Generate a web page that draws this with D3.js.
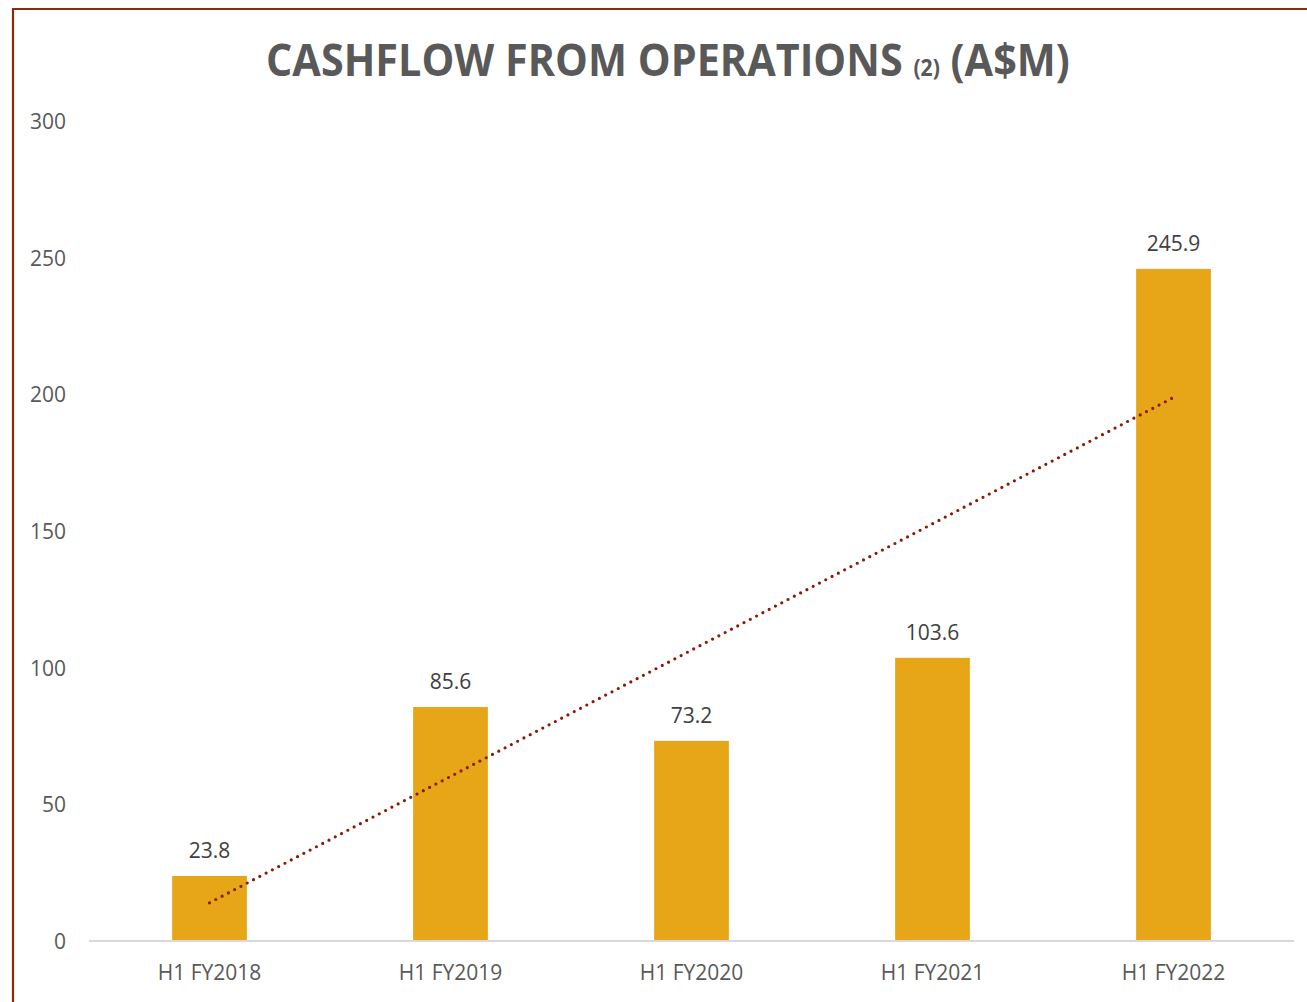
<!DOCTYPE html>
<html><head><meta charset="utf-8">
<script src="https://cdn.jsdelivr.net/npm/d3@7"></script>
<style>html,body{margin:0;padding:0;background:#fff;}svg{display:block;}</style>
</head><body>
<svg id="chart" width="1307" height="1002"></svg>
<script>
const categories = ["H1 FY2018","H1 FY2019","H1 FY2020","H1 FY2021","H1 FY2022"];
const values = [23.8, 85.6, 73.2, 103.6, 245.9];
const valueLabels = ["23.8","85.6","73.2","103.6","245.9"];
const yTicks = [0,50,100,150,200,250,300];

(function(){
const svg = d3.select("#chart");
const pLeft = 89, pRight = 1294, pTop = 121, pBottom = 941;
const font = "'Open Sans', 'Noto Sans', sans-serif";

// border (top + left)
svg.append("path").attr("d", `M13,1002 V9 H1307`).attr("fill","none")
  .attr("stroke","#8b2a0e").attr("stroke-width",2.2);

const x = d3.scaleBand().domain(categories).range([pLeft,pRight]).paddingInner(0.69).paddingOuter(0.345);
const y = d3.scaleLinear().domain([0,300]).range([pBottom,pTop]);

// y tick labels
const yAxis = d3.axisLeft(y).tickValues(yTicks).tickSize(0).tickPadding(0);
const gy = svg.append("g").attr("transform","translate(66,0)").call(yAxis);
gy.select(".domain").remove();
gy.selectAll("text").attr("font-family",font).attr("font-size",21).attr("fill","#595959").attr("dy","0.36em");

// bars
svg.append("g").selectAll("rect").data(values).join("rect")
  .attr("x",(d,i)=>x(categories[i])).attr("width",x.bandwidth())
  .attr("y",d=>y(d)).attr("height",d=>pBottom-y(d)).attr("fill","#e6a617");

// x axis
const xAxis = d3.axisBottom(x).tickSize(0).tickPadding(0);
const gx = svg.append("g").attr("transform",`translate(0,${pBottom})`).call(xAxis);
gx.select(".domain").attr("stroke","#d9d9d9").attr("stroke-width",2).attr("d",`M${pLeft},0H${pRight}`);
gx.selectAll("text").attr("font-family",font).attr("font-size",21).attr("fill","#595959").attr("dy","38.5");

// value labels
svg.append("g").selectAll("text").data(values).join("text")
  .attr("x",(d,i)=>x(categories[i])+x.bandwidth()/2).attr("y",d=>y(d)-18)
  .attr("text-anchor","middle").attr("font-family",font).attr("font-size",21).attr("fill","#404040")
  .text((d,i)=>valueLabels[i]);

// linear trendline (least squares over category index, as in the source chart)
const n = values.length;
const xs = values.map((d,i)=>i+1);
const mx = d3.mean(xs), my = d3.mean(values);
const slope = d3.sum(xs.map((xi,i)=>(xi-mx)*(values[i]-my))) / d3.sum(xs.map(xi=>(xi-mx)*(xi-mx)));
const icpt = my - slope*mx;
const trend = [1,n].map(xi=>({cx:x(categories[xi-1])+x.bandwidth()/2, v:icpt+slope*xi}));
svg.append("path").datum(trend)
  .attr("d", d3.line().x(d=>d.cx).y(d=>y(d.v)))
  .attr("fill","none").attr("stroke","#8b1a04").attr("stroke-width",3.2)
  .attr("stroke-linecap","round").attr("stroke-dasharray","0 7.1");

// title
const title = svg.append("text").attr("font-family",font).attr("font-weight",700).attr("fill","#595959")
  .attr("font-size",45).attr("y",76);
title.append("tspan").text("CASHFLOW FROM OPERATIONS ");
title.append("tspan").attr("font-size",23).text("(2)");
title.append("tspan").text(" (A$M)");
const tw = title.node().getComputedTextLength();
const target = 804, tx = 266;
title.attr("transform",`translate(${tx},0) scale(${target/tw},1)`);
})();
</script>
</body></html>
